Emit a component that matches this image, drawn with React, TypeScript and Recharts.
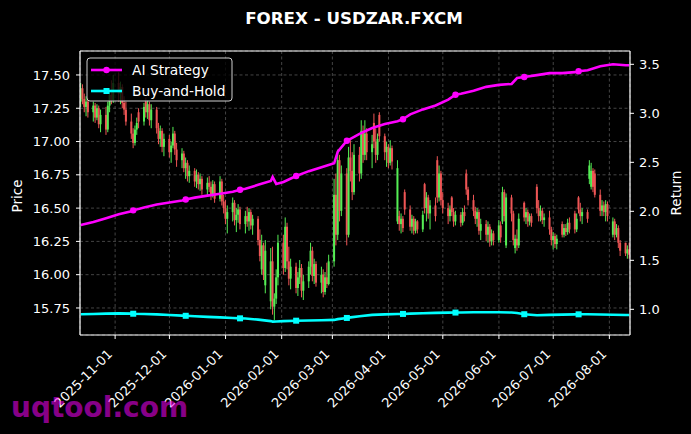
import React from "react";
import {
  ComposedChart,
  Bar,
  Line,
  XAxis,
  YAxis,
  CartesianGrid,
  ReferenceLine,
} from "recharts";

// daily candles [open, high, low, close], one row per weekday of the month
const oct25 = [
  [17.30, 17.44, 17.26, 17.40], [17.40, 17.43, 17.28, 17.32], [17.32, 17.36, 17.22, 17.26], [17.26, 17.34, 17.19, 17.30], [17.30, 17.33, 17.18, 17.22],
  [17.22, 17.30, 17.15, 17.27], [17.27, 17.29, 17.14, 17.18], [17.18, 17.28, 17.16, 17.25], [17.25, 17.27, 17.10, 17.13], [17.13, 17.24, 17.07, 17.20],
  [17.20, 17.26, 17.05, 17.09], [17.09, 17.30, 17.07, 17.27], [17.27, 17.38, 17.22, 17.35], [17.35, 17.46, 17.28, 17.31], [17.31, 17.50, 17.29, 17.44],
];
const nov25 = [
  [17.44, 17.52, 17.30, 17.36], [17.36, 17.45, 17.28, 17.41], [17.41, 17.43, 17.25, 17.29], [17.29, 17.34, 17.20, 17.24], [17.24, 17.30, 17.12, 17.15],
  [17.15, 17.21, 17.02, 17.06], [17.06, 17.10, 16.95, 16.99], [16.99, 17.12, 16.97, 17.09], [17.09, 17.18, 17.05, 17.14], [17.22, 17.25, 17.10, 17.15],
  [17.15, 17.29, 17.12, 17.26], [17.30, 17.33, 17.18, 17.22], [17.22, 17.31, 17.17, 17.28], [17.28, 17.30, 17.12, 17.16], [17.16, 17.28, 17.10, 17.24],
  [17.24, 17.26, 17.06, 17.10], [17.10, 17.14, 16.98, 17.02], [17.02, 17.12, 16.96, 17.08], [17.08, 17.10, 16.92, 16.96], [16.96, 17.06, 16.89, 17.02],
];
const dec25 = [
  [17.02, 17.05, 16.88, 16.92], [16.92, 17.00, 16.84, 16.97], [16.97, 17.11, 16.95, 17.06], [17.06, 17.08, 16.90, 16.94], [16.94, 16.99, 16.81, 16.86],
  [16.86, 16.95, 16.80, 16.91], [16.91, 16.93, 16.77, 16.80], [16.80, 16.88, 16.72, 16.84], [16.84, 16.86, 16.70, 16.74], [16.74, 16.82, 16.69, 16.78],
  [16.78, 16.80, 16.66, 16.70], [16.70, 16.79, 16.65, 16.75], [16.75, 16.77, 16.64, 16.68], [16.68, 16.76, 16.63, 16.72], [16.72, 16.74, 16.60, 16.64],
  [16.64, 16.73, 16.59, 16.69], [16.69, 16.74, 16.62, 16.66], [16.66, 16.70, 16.56, 16.60], [16.60, 16.71, 16.58, 16.68], [16.68, 16.70, 16.54, 16.57],
  [16.57, 16.74, 16.55, 16.70], [16.70, 16.72, 16.52, 16.55], [16.55, 16.60, 16.46, 16.50],
];
const jan26 = [
  [16.50, 16.56, 16.38, 16.42], [16.42, 16.52, 16.31, 16.47],
  [16.47, 16.58, 16.40, 16.54], [16.54, 16.56, 16.37, 16.41], [16.41, 16.50, 16.32, 16.45], [16.45, 16.53, 16.39, 16.49], [16.49, 16.51, 16.34, 16.38],
  [16.38, 16.48, 16.31, 16.44], [16.44, 16.51, 16.36, 16.40], [16.40, 16.50, 16.33, 16.47], [16.47, 16.49, 16.34, 16.37], [16.37, 16.45, 16.30, 16.42],
  [16.42, 16.44, 16.22, 16.26], [16.26, 16.34, 16.10, 16.14], [16.04, 16.30, 16.00, 16.22], [16.22, 16.24, 15.96, 16.00], [15.92, 16.26, 15.86, 16.18],
  [15.80, 16.20, 15.74, 16.10], [16.10, 16.21, 15.70, 15.76], [15.76, 15.86, 15.66, 15.82], [15.82, 16.04, 15.78, 15.98], [15.98, 16.30, 15.92, 16.24],
];
const feb26 = [
  [16.24, 16.30, 16.00, 16.05], [16.05, 16.43, 16.02, 16.36], [16.36, 16.39, 16.04, 16.10], [16.10, 16.21, 15.92, 15.97], [15.97, 16.12, 15.89, 16.06],
  [16.06, 16.09, 15.86, 15.90], [15.90, 16.02, 15.84, 15.98], [15.98, 16.11, 15.93, 16.05], [16.05, 16.08, 15.83, 15.88], [15.88, 16.00, 15.81, 15.95],
  [15.95, 16.10, 15.90, 16.06], [16.06, 16.24, 16.00, 16.18], [16.18, 16.21, 15.95, 15.99], [15.99, 16.12, 15.93, 16.08], [16.08, 16.10, 15.91, 15.94],
  [15.94, 16.06, 15.86, 16.00], [16.00, 16.04, 15.83, 15.87], [15.87, 16.02, 15.85, 15.98], [15.98, 16.09, 15.90, 15.93], [15.93, 16.15, 15.92, 16.10],
];
const mar26 = [
  [16.10, 16.72, 16.06, 16.60], [16.60, 16.76, 16.22, 16.30], [16.30, 16.94, 16.26, 16.86], [16.86, 16.90, 16.40, 16.48], [16.48, 16.82, 16.44, 16.76],
  [16.76, 16.80, 16.22, 16.30], [16.30, 16.96, 16.28, 16.88], [16.88, 17.01, 16.70, 16.78], [16.78, 16.92, 16.56, 16.62], [16.62, 16.98, 16.60, 16.90],
  [16.90, 16.96, 16.70, 16.76], [16.76, 17.16, 16.72, 17.08], [17.08, 17.12, 16.84, 16.90], [16.90, 17.16, 16.86, 17.06], [17.06, 17.10, 16.86, 16.92],
  [16.92, 17.05, 16.80, 16.98], [17.14, 17.21, 16.95, 17.00], [17.00, 17.10, 16.84, 16.90], [16.90, 17.06, 16.86, 17.02], [17.20, 17.22, 17.00, 17.04],
  [17.04, 17.06, 16.86, 16.92], [16.92, 17.00, 16.81, 16.96],
];
const apr26 = [
  [16.96, 16.98, 16.80, 16.84], [16.84, 17.01, 16.82, 16.95], [16.95, 16.97, 16.79, 16.85],
  [16.40, 16.86, 16.38, 16.80], [16.44, 16.48, 16.33, 16.38], [16.38, 16.46, 16.31, 16.42], [16.42, 16.44, 16.32, 16.35], [16.62, 16.64, 16.45, 16.49],
  [16.49, 16.52, 16.33, 16.36], [16.36, 16.45, 16.31, 16.42], [16.42, 16.44, 16.30, 16.33], [16.33, 16.42, 16.31, 16.40], [16.40, 16.41, 16.31, 16.34],
  [16.34, 16.48, 16.32, 16.45], [16.68, 16.69, 16.46, 16.50], [16.50, 16.62, 16.40, 16.58], [16.58, 16.60, 16.42, 16.46], [16.46, 16.56, 16.34, 16.52],
  [16.52, 16.58, 16.40, 16.44], [16.86, 16.89, 16.54, 16.58], [16.58, 16.82, 16.55, 16.76], [16.76, 16.78, 16.52, 16.56],
];
const may26 = [
  [16.56, 16.62, 16.46, 16.50],
  [16.50, 16.54, 16.38, 16.44], [16.44, 16.52, 16.40, 16.49], [16.58, 16.59, 16.44, 16.47], [16.47, 16.50, 16.36, 16.40], [16.40, 16.48, 16.37, 16.45],
  [16.45, 16.47, 16.36, 16.39], [16.39, 16.50, 16.37, 16.47], [16.47, 16.52, 16.40, 16.44], [16.76, 16.79, 16.60, 16.64], [16.64, 16.66, 16.52, 16.56],
  [16.56, 16.60, 16.44, 16.48], [16.48, 16.51, 16.38, 16.42], [16.42, 16.50, 16.36, 16.47], [16.47, 16.49, 16.30, 16.33], [16.33, 16.42, 16.26, 16.38],
  [16.38, 16.41, 16.25, 16.30], [16.30, 16.40, 16.24, 16.36], [16.36, 16.38, 16.21, 16.25], [16.25, 16.34, 16.22, 16.31], [16.31, 16.33, 16.22, 16.26],
];
const jun26 = [
  [16.26, 16.41, 16.24, 16.37], [16.37, 16.40, 16.24, 16.28], [16.40, 16.66, 16.38, 16.62], [16.62, 16.64, 16.40, 16.44], [16.22, 16.61, 16.20, 16.58],
  [16.58, 16.60, 16.40, 16.46], [16.46, 16.48, 16.22, 16.26], [16.20, 16.30, 16.16, 16.27], [16.27, 16.34, 16.18, 16.22], [16.22, 16.46, 16.20, 16.42],
  [16.54, 16.55, 16.40, 16.43], [16.43, 16.50, 16.38, 16.47], [16.47, 16.49, 16.36, 16.40], [16.40, 16.46, 16.37, 16.44], [16.44, 16.46, 16.36, 16.39],
  [16.66, 16.68, 16.46, 16.50], [16.50, 16.56, 16.40, 16.44], [16.44, 16.52, 16.40, 16.48], [16.48, 16.50, 16.38, 16.41], [16.41, 16.46, 16.36, 16.43],
  [16.43, 16.48, 16.30, 16.34], [16.34, 16.36, 16.22, 16.26],
];
const jul26 = [
  [16.26, 16.32, 16.19, 16.29], [16.29, 16.31, 16.20, 16.23], [16.23, 16.30, 16.19, 16.27],
  [16.38, 16.40, 16.28, 16.30], [16.30, 16.38, 16.28, 16.35], [16.35, 16.38, 16.29, 16.32], [16.32, 16.42, 16.30, 16.39], [16.39, 16.43, 16.31, 16.34],
  [16.46, 16.48, 16.31, 16.34], [16.34, 16.46, 16.32, 16.42], [16.58, 16.59, 16.46, 16.49], [16.49, 16.54, 16.40, 16.44], [16.44, 16.50, 16.38, 16.47],
  [16.47, 16.49, 16.39, 16.42], [16.72, 16.86, 16.68, 16.82], [16.66, 16.84, 16.64, 16.78], [16.78, 16.80, 16.62, 16.66], [16.76, 16.79, 16.58, 16.60],
  [16.60, 16.64, 16.44, 16.48], [16.48, 16.56, 16.44, 16.52], [16.52, 16.55, 16.44, 16.47], [16.47, 16.56, 16.40, 16.53], [16.53, 16.55, 16.40, 16.44],
];
const aug26 = [
  [16.30, 16.43, 16.28, 16.40], [16.40, 16.42, 16.26, 16.30], [16.30, 16.38, 16.28, 16.35], [16.35, 16.37, 16.20, 16.24], [16.24, 16.26, 16.14, 16.18],
  [16.24, 16.24, 16.14, 16.16], [16.16, 16.22, 16.12, 16.19], [16.19, 16.24, 16.12, 16.15],
];

const candleMonths: [string, string, number[][]][] = [
  ["2025-10-13", "2025-10-31", oct25],
  ["2025-11-01", "2025-11-30", nov25],
  ["2025-12-01", "2025-12-31", dec25],
  ["2026-01-01", "2026-01-31", jan26],
  ["2026-02-01", "2026-02-28", feb26],
  ["2026-03-01", "2026-03-31", mar26],
  ["2026-04-01", "2026-04-30", apr26],
  ["2026-05-01", "2026-05-31", may26],
  ["2026-06-01", "2026-06-30", jun26],
  ["2026-07-01", "2026-07-31", jul26],
  ["2026-08-01", "2026-08-12", aug26],
];

// equity curves (right axis), read roughly once a week
const lineDates = [
  "2025-10-13", "2025-10-20", "2025-10-27", "2025-11-03", "2025-11-10", "2025-11-11", "2025-11-17", "2025-11-24",
  "2025-12-01", "2025-12-08", "2025-12-10", "2025-12-15", "2025-12-22", "2025-12-29", "2026-01-05", "2026-01-09",
  "2026-01-12", "2026-01-19", "2026-01-26", "2026-01-27", "2026-01-29", "2026-02-02", "2026-02-09", "2026-02-16",
  "2026-02-23", "2026-03-02", "2026-03-04", "2026-03-09", "2026-03-11", "2026-03-16", "2026-03-23", "2026-03-30",
  "2026-04-06", "2026-04-09", "2026-04-13", "2026-04-20", "2026-04-27", "2026-05-04", "2026-05-08", "2026-05-11",
  "2026-05-18", "2026-05-25", "2026-06-01", "2026-06-08", "2026-06-11", "2026-06-15", "2026-06-22", "2026-06-29",
  "2026-07-06", "2026-07-13", "2026-07-15", "2026-07-20", "2026-07-27", "2026-08-03", "2026-08-10", "2026-08-12",
];
const aiStrategy = [
  1.86, 1.89, 1.93, 1.97, 2.00, 2.01, 2.04, 2.07,
  2.09, 2.11, 2.12, 2.14, 2.16, 2.18, 2.20, 2.22,
  2.23, 2.27, 2.31, 2.35, 2.28, 2.30, 2.36, 2.41,
  2.45, 2.49, 2.61, 2.72, 2.74, 2.79, 2.85, 2.89,
  2.92, 2.94, 2.99, 3.04, 3.08, 3.14, 3.19, 3.20,
  3.23, 3.27, 3.29, 3.30, 3.36, 3.37, 3.39, 3.41,
  3.41, 3.42, 3.43, 3.44, 3.48, 3.50, 3.49, 3.49,
];
const buyAndHold = [
  0.950, 0.953, 0.956, 0.959, 0.956, 0.955, 0.952, 0.948,
  0.942, 0.936, 0.934, 0.929, 0.923, 0.918, 0.912, 0.908,
  0.906, 0.895, 0.880, 0.874, 0.876, 0.880, 0.884, 0.886,
  0.888, 0.892, 0.900, 0.912, 0.918, 0.930, 0.943, 0.948,
  0.952, 0.953, 0.956, 0.960, 0.964, 0.966, 0.967, 0.968,
  0.970, 0.970, 0.970, 0.967, 0.962, 0.950, 0.940, 0.943,
  0.946, 0.948, 0.949, 0.949, 0.947, 0.944, 0.942, 0.942,
];
const markerDates = [
  "2025-11-11", "2025-12-10", "2026-01-09", "2026-02-09",
  "2026-03-09", "2026-04-09", "2026-05-08", "2026-06-15", "2026-07-15",
];

const monthTicks = [
  "2025-11-01", "2025-12-01", "2026-01-01", "2026-02-01", "2026-03-01",
  "2026-04-01", "2026-05-01", "2026-06-01", "2026-07-01", "2026-08-01",
];
const priceTicks = [15.75, 16.0, 16.25, 16.5, 16.75, 17.0, 17.25, 17.5];
const returnTicks = [1.0, 1.5, 2.0, 2.5, 3.0, 3.5];

const DAY = 86400000;
const dayNum = (s: string) => Date.UTC(+s.slice(0, 4), +s.slice(5, 7) - 1, +s.slice(8, 10)) / DAY;
const fmtDay = (n: number) => new Date(Math.round(n) * DAY).toISOString().slice(0, 10);

function weekdays(from: string, to: string) {
  const out: string[] = [];
  for (let d = dayNum(from); d <= dayNum(to); d++) {
    const wd = new Date(d * DAY).getUTCDay();
    if (wd !== 0 && wd !== 6) out.push(fmtDay(d));
  }
  return out;
}

const lineByDate = new Map(lineDates.map((d, i) => [d, { ai: aiStrategy[i], bh: buyAndHold[i] }]));

const rows = candleMonths.flatMap(([from, to, candles]) =>
  weekdays(from, to)
    .slice(0, candles.length)
    .map((date, i) => {
      const [o, h, l, c] = candles[i];
      const ln = lineByDate.get(date);
      return { date, t: dayNum(date), o, h, l, c, ai: ln ? ln.ai : null, bh: ln ? ln.bh : null };
    })
);

const markerSet = new Set(markerDates);

const GREEN = "#55ee55";
const RED = "#ee5555";
const MAGENTA = "#ff00ff";
const CYAN = "#00ffff";
const FONT = "DejaVu Sans, sans-serif";

const X_MIN = dayNum("2025-10-13") - 0.4;
const X_MAX = dayNum("2026-08-12") + 0.4;
const P_MIN = 15.547;
const P_MAX = 17.68;
const R_MIN = 0.738;
const R_MAX = 3.636;

const Candle = (props: any) => {
  const { x, y, width, height, payload } = props;
  if (!payload || x == null) return null;
  const { o, h, l, c } = payload;
  const top = Math.min(y, y + height);
  const bot = Math.max(y, y + height);
  const k = h > l ? (bot - top) / (h - l) : 0;
  const yOf = (v: number) => top + (h - v) * k;
  const cx = x + width / 2;
  const color = c >= o ? GREEN : RED;
  const b1 = yOf(Math.max(o, c));
  const b2 = yOf(Math.min(o, c));
  return (
    <g>
      <line x1={cx} x2={cx} y1={top} y2={bot} stroke={color} strokeWidth={1} />
      <rect x={cx - 1} y={b1} width={2} height={Math.max(b2 - b1, 1)} fill={color} />
    </g>
  );
};

const aiDot = (p: any) => {
  if (p.cy == null || !p.payload || !markerSet.has(p.payload.date)) return <g key={p.index} />;
  return <circle key={p.index} cx={p.cx} cy={p.cy} r={3.2} fill={MAGENTA} />;
};

const bhDot = (p: any) => {
  if (p.cy == null || !p.payload || !markerSet.has(p.payload.date)) return <g key={p.index} />;
  return <rect key={p.index} x={p.cx - 3} y={p.cy - 3} width={6} height={6} fill={CYAN} />;
};

const DateTick = (p: any) => (
  <g transform={`translate(${p.x - 2},${p.y + 14})`}>
    <text textAnchor="end" transform="rotate(-45)" fill="#fff" fontSize={13} fontFamily={FONT}>
      {fmtDay(p.payload.value)}
    </text>
  </g>
);

const tickStyle = { fill: "#fff", fontSize: 13, fontFamily: FONT };

export default function App() {
  return (
    <div style={{ position: "absolute", left: 0, top: 0, width: 691, height: 434, background: "#000" }}>
      <ComposedChart
        width={691}
        height={434}
        data={rows}
        margin={{ top: 51, right: 0, bottom: 0, left: 0 }}
        style={{ position: "absolute", left: 0, top: 0 }}
      >
        <CartesianGrid yAxisId="price" stroke="#555" strokeDasharray="3 2.5" strokeWidth={0.8} />
        <XAxis
          dataKey="t"
          type="number"
          domain={[X_MIN, X_MAX]}
          allowDataOverflow
          ticks={monthTicks.map(dayNum)}
          tick={<DateTick />}
          tickSize={4}
          height={99}
          axisLine={{ stroke: "#fff", strokeWidth: 1.2 }}
          tickLine={{ stroke: "#fff" }}
        />
        <YAxis
          yAxisId="price"
          orientation="left"
          width={80}
          domain={[P_MIN, P_MAX]}
          allowDataOverflow
          ticks={priceTicks}
          tickFormatter={(v: number) => v.toFixed(2)}
          tick={tickStyle}
          tickSize={4}
          tickMargin={6}
          axisLine={{ stroke: "#fff", strokeWidth: 1.2 }}
          tickLine={{ stroke: "#fff" }}
        />
        <YAxis
          yAxisId="ret"
          orientation="right"
          width={61}
          domain={[R_MIN, R_MAX]}
          allowDataOverflow
          ticks={returnTicks}
          tickFormatter={(v: number) => v.toFixed(1)}
          tick={tickStyle}
          tickSize={4}
          tickMargin={5}
          axisLine={{ stroke: "#fff", strokeWidth: 1.2 }}
          tickLine={{ stroke: "#fff" }}
        />
        <ReferenceLine yAxisId="price" y={P_MAX} stroke="#fff" strokeWidth={1.2} />
        <Bar
          yAxisId="price"
          dataKey={(d: any) => [d.l, d.h]}
          barSize={2}
          shape={Candle}
          isAnimationActive={false}
        />
        <Line
          yAxisId="ret"
          dataKey="ai"
          stroke={MAGENTA}
          strokeWidth={2.6}
          connectNulls
          dot={aiDot}
          activeDot={false}
          isAnimationActive={false}
        />
        <Line
          yAxisId="ret"
          dataKey="bh"
          stroke={CYAN}
          strokeWidth={2.6}
          connectNulls
          dot={bhDot}
          activeDot={false}
          isAnimationActive={false}
        />
      </ComposedChart>
      <svg width={691} height={434} style={{ position: "absolute", left: 0, top: 0, pointerEvents: "none" }}>
        <text x={354} y={24} textAnchor="middle" fill="#fff" fontSize={16.7} fontWeight="bold" fontFamily={FONT}>
          FOREX - USDZAR.FXCM
        </text>
        <text transform="translate(22,196) rotate(-90)" textAnchor="middle" fill="#fff" fontSize={13.5} fontFamily={FONT}>
          Price
        </text>
        <text transform="translate(681,193) rotate(-90)" textAnchor="middle" fill="#fff" fontSize={13.5} fontFamily={FONT}>
          Return
        </text>
        <g>
          <rect x={87} y={58} width={145} height={43} rx={3} fill="#000" fillOpacity={0.8} stroke="#cfcfcf" strokeWidth={1} />
          <line x1={91} x2={122} y1={70} y2={70} stroke={MAGENTA} strokeWidth={2.6} />
          <circle cx={106.5} cy={70} r={3.2} fill={MAGENTA} />
          <text x={132} y={75} fill="#fff" fontSize={13.8} fontFamily={FONT}>AI Strategy</text>
          <line x1={91} x2={122} y1={91} y2={91} stroke={CYAN} strokeWidth={2.6} />
          <rect x={103.5} y={88} width={6} height={6} fill={CYAN} />
          <text x={132} y={96} fill="#fff" fontSize={13.8} fontFamily={FONT}>Buy-and-Hold</text>
        </g>
        <text x={11} y={417} fill={MAGENTA} fillOpacity={0.55} fontSize={28} fontWeight="bold" fontFamily={FONT}>
          uqtool.com
        </text>
      </svg>
    </div>
  );
}
